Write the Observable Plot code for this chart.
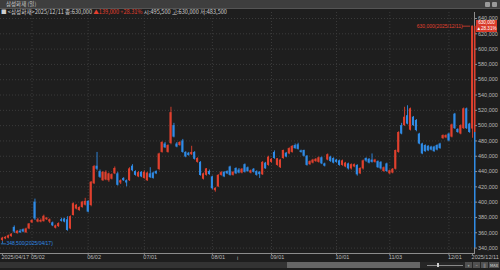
<!DOCTYPE html>
<html><head><meta charset="utf-8">
<script src="https://cdn.jsdelivr.net/npm/d3@7"></script>
<script src="https://cdn.jsdelivr.net/npm/@observablehq/plot@0.6"></script>
<style>
html,body{margin:0;padding:0;background:#1e1e1e;}
#wrap{position:relative;width:500px;height:270px;overflow:hidden;background:#1e1e1e;font-family:"Noto Sans CJK KR","Liberation Sans",sans-serif;}
#titlebar{position:absolute;left:0;top:0;width:500px;height:8px;background:#3e3e3e;border-bottom:1px solid #555;color:#c8c8c8;font-size:5.5px;line-height:8px;}
#titlebar span{position:absolute;left:6px;top:0;}
.ic{position:absolute;top:1.5px;width:5px;height:5px;background:#9a9a9a;border-radius:1px;}
#info{position:absolute;left:1px;top:9px;height:7px;font-size:5.6px;line-height:7px;color:#cfcfcf;white-space:nowrap;}
#info .r{color:#e5402f;}
#chart{position:absolute;left:0;top:0;}
#pbox{position:absolute;left:476px;top:20px;width:21px;height:12px;background:#d93a2a;color:#fff;font-size:4.6px;line-height:5.6px;text-align:center;font-family:"Liberation Sans",sans-serif;}
#scroll{position:absolute;left:0;top:262px;width:500px;height:6px;background:#262626;}
.sb{position:absolute;top:0;height:6px;}
.btn{position:absolute;top:0;height:6px;width:7px;background:#505050;color:#ddd;font-size:4px;line-height:6px;text-align:center;}
</style></head>
<body><div id="wrap">
<div id="chart"></div>
<div id="titlebar"><span>삼성화재 (일)</span><div class="ic" style="left:485px"></div><div class="ic" style="left:492px"></div></div>
<div id="info">■ &lt;삼성화재&gt;2025/12/11 종:630,000 <span class="r">▲139,000 +28.31%</span> 시:495,500 고:630,000 저:483,500</div>
<div id="pbox">630,000<br>▲28.31%</div>
<div id="scroll">
  <div class="sb" style="left:0;width:287px;background:#333;"></div>
  <div class="sb" style="left:287px;width:133px;background:#666;"></div>
  <div class="sb" style="left:427px;width:36px;top:2.5px;height:1px;background:#888;"></div>
  <div class="sb" style="left:437px;width:2px;top:1px;height:4px;background:#ccc;"></div>
  <div class="btn" style="left:465px">+</div><div class="btn" style="left:473px">−</div><div class="btn" style="left:481px">||</div><div class="btn" style="left:489px;width:10px">MAX</div>
</div>
</div>
<script>
// Daily OHLC, 삼성화재, 2025/04/17 – 2025/12/11 (unit: 1,000 KRW)
const open = [350,352,353,355,367,359,362,364,360,365,373,400,374,374,374.5,377,374,373,366,368,377,378,377,365,382.5,391,389,393,396,401,
395.6,424,447,440,428,429,428,430,437,437,425,431,428,428,447,440,433,439,431,428,437,438,440,442.7,465,476,465,476.6,500,476,
474,480,465,464,462,465,452,452,430,435,440,433,415,420,435,439,440,446,435,444,442,438,449,445,438,443,440,439,435.7,451,
448,452,465,448,445,457,464,463,465,474,475,467,467.5,460,449,451,453,452,458,450,455,459,457,455,454,448,446,450,443.5,446,
448,437,443.5,457,456,455,452,453,452,440,450,437,438,443,465,500,500,513,494,511,506.7,489,476,474,473,472,472,474,476,483,
484,489,485,515,495,489,496,522,502,495.5];
const high = [354,355,357,359,369,363,364,365,366,372,377,404,379,378,383,380,378,374,370,373,379,379,381,382,399,397,394,401,405,402,
427,448,465,442,440,441,438,437,446,439,429,432,429,445,449,441,440,440,441,439,445,439,441,464,479,478,475,524,503,478,
479,482,466,465,473,466,458,453,438,444,442,434,419,436,440,440,441,447,440,445,444,444,450,446,442,444,441,440,453,452,
460,457,467,457,456,468,465,471,474,476,477,468,468,461,454,456,457,459,459,451,463,460,458,456,455,455,452,451,450,450,
449,445,455,458,457,463,456,454,453,446,451,442,444,468,492,503,524,526,523,512,508,490,477,475,474,473,473,475,477,488,
488,490,502,516,496,501,523,523,503,630];
const low = [348.5,351,352,354,359,358,359,360,359,364,372,376,373,373,374,376,372,368,365,367,374,373,362,364,382,390,388,392,395,386,
394,423,441,431,427,428,426,429,436,421,423,427,420,427,440,434,432,432,430,427,431,430,436,441,464,470,464,475,484,471,
473,464,458,460,461,455,451,434,429,434,435,416,413,419,434,432,436,434,434,436,437,437,438,439,437,438,434,431,435,443,
447,451,456,447,444,456,458,462,464,469,468,464,459,447,448,450,452,451,449,446,454,452,450,451,447,447,445,442,442,445,
434,436,442,452,450,451,451,444,442,439,439,436,437,442,464,488,499,501,493,499,492,475,462,465,466,467,465,467,469,482,
483,479,484,495,490,488,495,495,490,483.5];
const close = [353,354,356,358,361,362,360,361,365,371.5,376,378,377,376,381.5,379,377,369,369,372,375,374,363,381,398,396,393,400,401,387,
426,446.5,443,432.5,439,439,437,436,444,422,428,428,425,443.5,441,435,438.5,433,439,438,432,431,437,463,478,471,474,517,485,472,
478,465,459,461,465,456,457,434.8,437,443.5,436,417.5,418,435,438.5,433,437,435,439,437,438,443,439,440,441,439,435,436,452,443.5,
458.7,456,457,456.7,455,467.5,459,470,472.8,470,469,465,460,448,453,455,456,458,450,447,462,453,451,452,448,454,451,443.5,449,449,
435.7,444,454,453.7,451,452,455,445,443.5,445,440,441,443,467.5,491,489,511,502,522,500,493.6,476,463,466,467,468,466,468,470,487,
487,480,501,496,491,500,522,496,491,630];
const UNIT = 1000;
const xTickIdx = [0,10,29,48,71,91,113,131,151,159];
const xTickLabels = ["2025/04/17","05/02","06/02","07/01","08/01","09/01","10/01","11/03","12/01","2025/12/11"];
const yTicks = [340000,360000,380000,400000,420000,440000,460000,480000,500000,520000,540000,560000,580000,600000,620000,640000];
const prevClose = 491000;
const maxMark = {label:"630,000(2025/12/11)", idx:159, value:630000};
const minMark = {label:"348,500(2025/04/17)", idx:0, value:348500};

const candles = open.map((o,i)=>({i, open:o*UNIT, high:high[i]*UNIT, low:low[i]*UNIT, close:close[i]*UNIT}));
const RED="#e0402e", BLUE="#2f8be6", GRID="#3b3b3b", AX="#8c8c8c", TXT="#b9b9b9";
const col = d => d.close >= d.open ? RED : BLUE;
const n = open.length;

const chart = Plot.plot({
  width:500, height:262, marginTop:12, marginBottom:9, marginLeft:0, marginRight:26,
  style:{background:"transparent", color:TXT, fontFamily:"Liberation Sans, sans-serif", fontSize:"5.5px", overflow:"visible"},
  x:{type:"band", domain:d3.range(n), range:[0,474], padding:0.3, axis:null},
  y:{domain:[332900,647850], range:[253,12], axis:null},
  marks:[
    Plot.ruleY(yTicks, {stroke:GRID, strokeDasharray:"1,2"}),
    Plot.ruleX(xTickIdx.slice(1,-1), {stroke:GRID, strokeDasharray:"1,2"}),
    Plot.ruleX(candles, {x:"i", y1:"low", y2:"high", stroke:col, strokeWidth:0.9}),
    Plot.barY(candles, {x:"i", y1:"open", y2:"close", fill:col}),
    Plot.frame({anchor:"bottom", stroke:AX}),
    Plot.frame({anchor:"right", stroke:AX}),
    Plot.ruleX([n-1], {y1:maxMark.value, y2:prevClose, stroke:RED, strokeWidth:1.5, dx:2.2}),
    Plot.ruleX([n-1], {y1:prevClose, y2:yTicks[0], stroke:BLUE, strokeWidth:1.5, dx:2.2}),
    Plot.axisY(yTicks, {anchor:"right", tickSize:2, tickPadding:1.5, tickFormat:d3.format(","), fill:TXT, stroke:AX, fontSize:5.5}),
    Plot.axisX(xTickIdx, {anchor:"bottom", tickSize:2, tickFormat:()=>"", stroke:AX}),
    Plot.text(xTickIdx.map((d,k)=>({i:d, label:xTickLabels[k]})), {x:"i", text:"label", frameAnchor:"bottom", dy:5, textAnchor:"start", dx:-1, fill:TXT, fontSize:5.5}),
    Plot.ruleY([maxMark.value], {x1:maxMark.idx-3, x2:maxMark.idx-1, stroke:RED, strokeWidth:0.8}),
    Plot.text([maxMark], {x:d=>d.idx-3, y:"value", text:"label", textAnchor:"end", dx:-1, fill:RED, fontSize:5}),
    Plot.ruleX([minMark.idx], {y1:minMark.value, y2:minMark.value-3000, stroke:BLUE, strokeWidth:0.8}),
    Plot.ruleY([minMark.value-3000], {x1:minMark.idx, x2:minMark.idx+1, stroke:BLUE, strokeWidth:0.8}),
    Plot.text([minMark], {x:d=>d.idx+1, y:d=>d.value-3000, text:"label", textAnchor:"start", dx:1, fill:BLUE, fontSize:5})
  ]
});
document.getElementById("chart").appendChild(chart);
</script>
</body></html>
